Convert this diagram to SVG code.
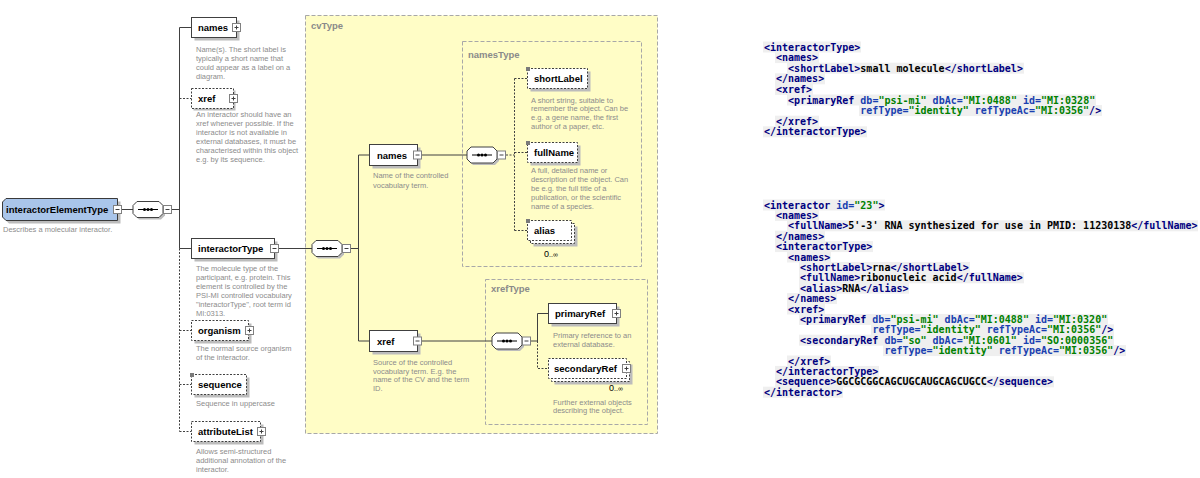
<svg xmlns="http://www.w3.org/2000/svg" width="1200" height="478" viewBox="0 0 1200 478">
<style>
.bx{fill:#fff;stroke:#404040;stroke-width:1}
.op{stroke-dasharray:2 1.5}
.sh{fill:#bcbcbc}
.lb{font-family:"Liberation Sans",Arial,sans-serif;font-weight:bold;font-size:9.5px;fill:#000}
.ds{font-family:"Liberation Sans",Arial,sans-serif;font-size:7.5px;fill:#8c8c8c}
.ty{font-family:"Liberation Sans",Arial,sans-serif;font-weight:bold;font-size:9.5px;fill:#8a8a8a}
.ln{stroke:#404040;stroke-width:1;fill:none}
.dl{stroke-dasharray:2 1.5}
.reg{fill:none;stroke:#a8a8a8;stroke-dasharray:4 2}
.mk{fill:#7a7a7a}
.oc{font-family:"Liberation Sans",Arial,sans-serif;font-size:9px;fill:#000}
.x{font-family:"DejaVu Sans Mono",monospace;font-size:10px;font-weight:bold;fill:#000;white-space:pre}
.t{fill:#000080}
.a{fill:#1a3fb0}
.v{fill:#008000}
.hl{fill:#efefef}
</style>
<defs>
<g id="pl"><rect x="0.5" y="0.5" width="8" height="8" fill="#fff" stroke="#808080"/><path d="M2.5 4.5h4M4.5 2.5v4" stroke="#404040"/></g>
<g id="mi"><rect x="0.5" y="0.5" width="8" height="8" fill="#fff" stroke="#808080"/><path d="M2.5 4.5h4" stroke="#404040"/></g>
<g id="sq">
<polygon class="sh" points="6,2 28,2 32,6 32,14 28,18 6,18 2,14 2,6"/>
<polygon points="4,0 26,0 30,4 30,12 26,16 4,16 0,12 0,4" fill="#fff" stroke="#404040"/>
<path d="M5 8h20" stroke="#000"/>
<circle cx="11.5" cy="8" r="1.5"/><circle cx="15" cy="8" r="1.5"/><circle cx="18.5" cy="8" r="1.5"/>
<use href="#mi" x="30" y="3.5"/>
</g>
</defs>

<rect id="cvType-bg" x="305.5" y="15.5" width="352" height="418" fill="#fffdc6" stroke="#a8a8a8" stroke-dasharray="4 2"/>
<text class="ty" x="311" y="29">cvType</text>
<rect id="namesType-bg" class="reg" x="462.5" y="41.5" width="179" height="225"/>
<text class="ty" x="468" y="58">namesType</text>
<rect id="xrefType-bg" class="reg" x="485.5" y="279.5" width="162" height="145"/>
<text class="ty" x="491" y="292">xrefType</text>

<g id="connectors">
<path class="ln" d="M122 209.5H133M172 209.5H179.5M179.5 27.5V248.5M179.5 27.5H191.5M179.5 248.5H191.5"/>
<path class="ln dl" d="M179.5 248.5V431.5M179.5 98.5H191.5M179.5 330.5H191.5M179.5 384.5H191.5M179.5 431.5H191.5"/>
<path class="ln" d="M279 248.5H312M351 248.5H358.5M358.5 155V341M358.5 155H369.5M358.5 341H369.5"/>
<path class="ln" d="M422 155H467"/>
<path class="ln dl" d="M506 155H514.5M514.5 78.5V230.5M514.5 78.5H527.5M514.5 152.5H527.5M514.5 230.5H527.5"/>
<path class="ln" d="M422 341H492M531 341H537.5M537.5 313.5V341M537.5 313.5H548.5"/>
<path class="ln dl" d="M537.5 341V368.5H548.5"/>
</g>

<g id="n-interactorElementType">
<polygon class="sh" points="9,201.5 120.5,201.5 120.5,223.5 9,223.5 5.5,220 5.5,205"/>
<polygon points="6,198.5 117.5,198.5 117.5,220.5 6,220.5 2.5,217 2.5,202" fill="#a9c5ea" stroke="#3a3a3a"/>
<text class="lb" x="6" y="213">interactorElementType</text>
<use href="#mi" x="113" y="205"/>
<text class="ds" x="3" y="231.5">Describes a molecular interactor.</text>
</g>
<g id="c-seq1"><use href="#sq" x="133" y="201.5"/></g>

<g id="n-names">
<rect class="sh" x="194.5" y="20.5" width="45" height="20"/>
<rect class="bx" x="191.5" y="17.5" width="45" height="20"/>
<text class="lb" x="198" y="31">names</text>
<use href="#pl" x="232" y="23"/>
<text class="ds" x="196" y="51.5">Name(s).  The short label is</text>
<text class="ds" x="196" y="60.5">typically a short name that</text>
<text class="ds" x="196" y="69.5">could appear as a label on a</text>
<text class="ds" x="196" y="78.5">diagram.</text>
</g>
<g id="n-xref">
<rect class="sh" x="193.5" y="90.5" width="42" height="20"/>
<rect class="bx op" x="191.5" y="88.5" width="42" height="20"/>
<text class="lb" x="198" y="102">xref</text>
<use href="#pl" x="229" y="94"/>
<text class="ds" x="196" y="117">An interactor should have an</text>
<text class="ds" x="196" y="126">xref whenever possible. If the</text>
<text class="ds" x="196" y="135">interactor is not available in</text>
<text class="ds" x="196" y="144">external databases, it must be</text>
<text class="ds" x="196" y="153">characterised within this object</text>
<text class="ds" x="196" y="162">e.g. by its sequence.</text>
</g>
<g id="n-interactorType">
<rect class="sh" x="194.5" y="241.5" width="83" height="20"/>
<rect class="bx" x="191.5" y="238.5" width="83" height="20"/>
<text class="lb" x="198" y="252">interactorType</text>
<use href="#mi" x="270" y="244"/>
<text class="ds" x="196" y="271">The molecule type of the</text>
<text class="ds" x="196" y="280">participant, e.g. protein. This</text>
<text class="ds" x="196" y="289">element is controlled by the</text>
<text class="ds" x="196" y="298">PSI-MI controlled vocabulary</text>
<text class="ds" x="196" y="307">"interactorType", root term id</text>
<text class="ds" x="196" y="316">MI:0313.</text>
</g>
<g id="c-seq2"><use href="#sq" x="312" y="240.5"/></g>
<g id="n-organism">
<rect class="sh" x="194.5" y="323.5" width="57" height="20"/>
<rect class="bx op" x="191.5" y="320.5" width="57" height="20"/>
<text class="lb" x="198" y="334">organism</text>
<use href="#pl" x="245" y="326"/>
<text class="ds" x="196" y="351">The normal source organism</text>
<text class="ds" x="196" y="360">of the interactor.</text>
</g>
<g id="n-sequence">
<rect class="sh" x="194.5" y="377.5" width="55" height="20"/>
<rect class="bx op" x="191.5" y="374.5" width="55" height="20"/>
<rect class="mk" x="190" y="373" width="4" height="4"/>
<text class="lb" x="198" y="388">sequence</text>
<text class="ds" x="196" y="406">Sequence in uppercase</text>
</g>
<g id="n-attributeList">
<rect class="sh" x="194.5" y="424.5" width="69" height="20"/>
<rect class="bx op" x="191.5" y="421.5" width="69" height="20"/>
<text class="lb" x="198" y="435">attributeList</text>
<use href="#pl" x="257" y="427"/>
<text class="ds" x="196" y="453.5">Allows semi-structured</text>
<text class="ds" x="196" y="462.5">additional annotation of the</text>
<text class="ds" x="196" y="471.5">interactor.</text>
</g>

<g id="n-cv-names">
<rect class="sh" x="372.5" y="147.5" width="48" height="21"/>
<rect class="bx" x="369.5" y="144.5" width="48" height="21"/>
<text class="lb" x="377" y="158.5">names</text>
<use href="#mi" x="413" y="150.5"/>
<text class="ds" x="373" y="178">Name of the controlled</text>
<text class="ds" x="373" y="187.5">vocabulary term.</text>
</g>
<g id="c-seq3"><use href="#sq" x="467" y="147"/></g>
<g id="n-shortLabel">
<rect class="sh" x="530.5" y="71.5" width="60" height="20"/>
<rect class="bx op" x="527.5" y="68.5" width="60" height="20"/>
<rect class="mk" x="526" y="67" width="4" height="4"/>
<text class="lb" x="534" y="82">shortLabel</text>
<text class="ds" x="531" y="102.5">A short string, suitable to</text>
<text class="ds" x="531" y="111">remember the object. Can be</text>
<text class="ds" x="531" y="120">e.g. a gene name, the first</text>
<text class="ds" x="531" y="128.5">author of a paper, etc.</text>
</g>
<g id="n-fullName">
<rect class="sh" x="530.5" y="145.5" width="50" height="20"/>
<rect class="bx op" x="527.5" y="142.5" width="50" height="20"/>
<rect class="mk" x="526" y="141" width="4" height="4"/>
<text class="lb" x="534" y="156">fullName</text>
<text class="ds" x="531" y="172.5">A full, detailed name or</text>
<text class="ds" x="531" y="181.5">description of the object. Can</text>
<text class="ds" x="531" y="190.5">be e.g. the full title of a</text>
<text class="ds" x="531" y="200">publication, or the scientific</text>
<text class="ds" x="531" y="209">name of a species.</text>
</g>
<g id="n-alias">
<rect class="sh" x="533.5" y="226.5" width="44" height="20"/>
<rect class="bx op" x="530.5" y="223.5" width="44" height="20"/>
<rect class="bx op" x="527.5" y="220.5" width="44" height="20"/>
<rect class="mk" x="526" y="219" width="4" height="4"/>
<text class="lb" x="534" y="234">alias</text>
<text class="oc" x="544" y="257">0<tspan font-size="7">..∞</tspan></text>
</g>

<g id="n-cv-xref">
<rect class="sh" x="372.5" y="333.5" width="48" height="21"/>
<rect class="bx" x="369.5" y="330.5" width="48" height="21"/>
<text class="lb" x="377" y="344.5">xref</text>
<use href="#mi" x="413" y="336.5"/>
<text class="ds" x="373" y="364.5">Source of the controlled</text>
<text class="ds" x="373" y="373.5">vocabulary term.  E.g. the</text>
<text class="ds" x="373" y="382">name of the CV and the term</text>
<text class="ds" x="373" y="391">ID.</text>
</g>
<g id="c-seq4"><use href="#sq" x="492" y="333"/></g>
<g id="n-primaryRef">
<rect class="sh" x="551.5" y="306.5" width="68" height="20"/>
<rect class="bx" x="548.5" y="303.5" width="68" height="20"/>
<text class="lb" x="555" y="317">primaryRef</text>
<use href="#pl" x="612" y="309"/>
<text class="ds" x="553" y="337.5">Primary reference to an</text>
<text class="ds" x="553" y="346.5">external database.</text>
</g>
<g id="n-secondaryRef">
<rect class="sh" x="554.5" y="364.5" width="78" height="20"/>
<rect class="bx op" x="551.5" y="361.5" width="78" height="20"/>
<rect class="bx op" x="548.5" y="358.5" width="78" height="20"/>
<text class="lb" x="554" y="372">secondaryRef</text>
<use href="#pl" x="622" y="364"/>
<text class="oc" x="609" y="391">0<tspan font-size="7">..∞</tspan></text>
<text class="ds" x="553" y="404.5">Further external objects</text>
<text class="ds" x="553" y="413">describing the object.</text>
</g>

<g id="xml-1" xml:space="preserve">
<rect class="hl" x="763" y="41.5" width="98" height="11"/>
<rect class="hl" x="775" y="52.1" width="44" height="11"/>
<rect class="hl" x="787" y="62.7" width="237" height="11"/>
<rect class="hl" x="775" y="73.3" width="50" height="11"/>
<rect class="hl" x="775" y="83.9" width="38" height="11"/>
<rect class="hl" x="787" y="94.5" width="309" height="11"/>
<rect class="hl" x="859" y="105.1" width="243" height="11"/>
<rect class="hl" x="775" y="115.7" width="44" height="11"/>
<rect class="hl" x="763" y="126.3" width="104" height="11"/>
<text class="x t" x="764" y="50.5">&lt;interactorType&gt;</text>
<text class="x t" x="776" y="61.1">&lt;names&gt;</text>
<text class="x" x="788.1" y="71.7"><tspan class="t">&lt;shortLabel&gt;</tspan>small molecule<tspan class="t">&lt;/shortLabel&gt;</tspan></text>
<text class="x t" x="776" y="82.3">&lt;/names&gt;</text>
<text class="x t" x="776" y="92.9">&lt;xref&gt;</text>
<text class="x" x="788.1" y="103.5"><tspan class="t">&lt;primaryRef</tspan><tspan class="a"> db=</tspan><tspan class="v">"psi-mi"</tspan><tspan class="a"> dbAc=</tspan><tspan class="v">"MI:0488"</tspan><tspan class="a"> id=</tspan><tspan class="v">"MI:0328"</tspan></text>
<text class="x" x="860.3" y="114.1"><tspan class="a">refType=</tspan><tspan class="v">"identity"</tspan><tspan class="a"> refTypeAc=</tspan><tspan class="v">"MI:0356"</tspan><tspan class="t">/&gt;</tspan></text>
<text class="x t" x="776" y="124.7">&lt;/xref&gt;</text>
<text class="x t" x="764" y="135.3">&lt;/interactorType&gt;</text>
</g>

<g id="xml-2" xml:space="preserve">
<rect class="hl" x="763" y="199.5" width="122" height="11"/>
<rect class="hl" x="775" y="209.9" width="44" height="11"/>
<rect class="hl" x="787" y="220.3" width="411" height="11"/>
<rect class="hl" x="775" y="230.7" width="50" height="11"/>
<rect class="hl" x="775" y="241.1" width="98" height="11"/>
<rect class="hl" x="787" y="251.5" width="44" height="11"/>
<rect class="hl" x="799" y="261.9" width="171" height="11"/>
<rect class="hl" x="799" y="272.3" width="225" height="11"/>
<rect class="hl" x="799" y="282.7" width="110" height="11"/>
<rect class="hl" x="787" y="293.1" width="50" height="11"/>
<rect class="hl" x="787" y="303.5" width="38" height="11"/>
<rect class="hl" x="799" y="313.9" width="309" height="11"/>
<rect class="hl" x="871" y="324.3" width="243" height="11"/>
<rect class="hl" x="799" y="334.7" width="315" height="11"/>
<rect class="hl" x="883" y="345.1" width="243" height="11"/>
<rect class="hl" x="787" y="355.5" width="44" height="11"/>
<rect class="hl" x="775" y="365.9" width="104" height="11"/>
<rect class="hl" x="775" y="376.3" width="279" height="11"/>
<rect class="hl" x="763" y="386.7" width="80" height="11"/>
<text class="x" x="764" y="208.5"><tspan class="t">&lt;interactor</tspan><tspan class="a"> id=</tspan><tspan class="v">"23"</tspan><tspan class="t">&gt;</tspan></text>
<text class="x t" x="776" y="218.9">&lt;names&gt;</text>
<text class="x" x="788.1" y="229.3"><tspan class="t">&lt;fullName&gt;</tspan>5'-3' RNA synthesized for use in PMID: 11230138<tspan class="t">&lt;/fullName&gt;</tspan></text>
<text class="x t" x="776" y="239.7">&lt;/names&gt;</text>
<text class="x t" x="776" y="250.1">&lt;interactorType&gt;</text>
<text class="x t" x="788.1" y="260.5">&lt;names&gt;</text>
<text class="x" x="800.1" y="270.9"><tspan class="t">&lt;shortLabel&gt;</tspan>rna<tspan class="t">&lt;/shortLabel&gt;</tspan></text>
<text class="x" x="800.1" y="281.3"><tspan class="t">&lt;fullName&gt;</tspan>ribonucleic acid<tspan class="t">&lt;/fullName&gt;</tspan></text>
<text class="x" x="800.1" y="291.7"><tspan class="t">&lt;alias&gt;</tspan>RNA<tspan class="t">&lt;/alias&gt;</tspan></text>
<text class="x t" x="788.1" y="302.1">&lt;/names&gt;</text>
<text class="x t" x="788.1" y="312.5">&lt;xref&gt;</text>
<text class="x" x="800.1" y="322.9"><tspan class="t">&lt;primaryRef</tspan><tspan class="a"> db=</tspan><tspan class="v">"psi-mi"</tspan><tspan class="a"> dbAc=</tspan><tspan class="v">"MI:0488"</tspan><tspan class="a"> id=</tspan><tspan class="v">"MI:0320"</tspan></text>
<text class="x" x="872.4" y="333.3"><tspan class="a">refType=</tspan><tspan class="v">"identity"</tspan><tspan class="a"> refTypeAc=</tspan><tspan class="v">"MI:0356"</tspan><tspan class="t">/&gt;</tspan></text>
<text class="x" x="800.1" y="343.7"><tspan class="t">&lt;secondaryRef</tspan><tspan class="a"> db=</tspan><tspan class="v">"so"</tspan><tspan class="a"> dbAc=</tspan><tspan class="v">"MI:0601"</tspan><tspan class="a"> id=</tspan><tspan class="v">"SO:0000356"</tspan></text>
<text class="x" x="884.4" y="354.1"><tspan class="a">refType=</tspan><tspan class="v">"identity"</tspan><tspan class="a"> refTypeAc=</tspan><tspan class="v">"MI:0356"</tspan><tspan class="t">/&gt;</tspan></text>
<text class="x t" x="788.1" y="364.5">&lt;/xref&gt;</text>
<text class="x t" x="776" y="374.9">&lt;/interactorType&gt;</text>
<text class="x" x="776" y="385.3"><tspan class="t">&lt;sequence&gt;</tspan>GGCGCGGCAGCUGCAUGCAGCUGCC<tspan class="t">&lt;/sequence&gt;</tspan></text>
<text class="x t" x="764" y="395.7">&lt;/interactor&gt;</text>
</g>
</svg>
